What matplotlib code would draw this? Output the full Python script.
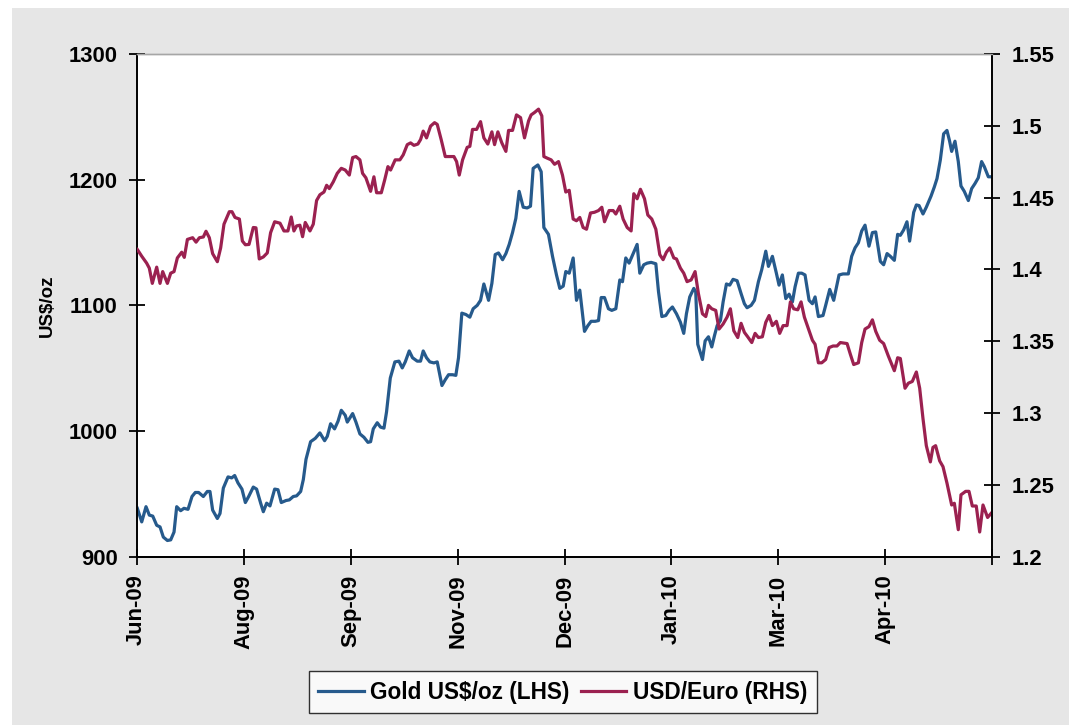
import matplotlib
matplotlib.use("Agg")
import matplotlib.pyplot as plt
from matplotlib.patches import Rectangle
from matplotlib.lines import Line2D

plt.rcParams['font.family'] = ['Liberation Sans', 'DejaVu Sans']
plt.rcParams['font.weight'] = 'bold'

# x positions are measured in units of one tick interval (0 = Jun-09 tick)
tick_labels = ["Jun-09", "Aug-09", "Sep-09", "Nov-09", "Dec-09", "Jan-10", "Mar-10", "Apr-10"]

gold_t = [0.006, 0.047, 0.087, 0.118, 0.150, 0.187, 0.218, 0.249, 0.287, 0.318, 0.349, 0.374, 0.411, 0.442,
          0.480, 0.517, 0.548, 0.579, 0.623, 0.660, 0.685, 0.710, 0.754, 0.779, 0.810, 0.854, 0.888, 0.916,
          0.947, 0.984, 1.016, 1.047, 1.090, 1.121, 1.159, 1.184, 1.215, 1.246, 1.290, 1.321, 1.352, 1.396,
          1.427, 1.464, 1.495, 1.533, 1.558, 1.583, 1.626, 1.670, 1.713, 1.757, 1.782, 1.813, 1.850, 1.882,
          1.913, 1.950,
          1.969, 2.019, 2.050, 2.087, 2.125, 2.162, 2.187, 2.212, 2.249, 2.280, 2.312, 2.336, 2.371, 2.414,
          2.452, 2.483, 2.511, 2.548, 2.579, 2.623, 2.654, 2.679, 2.710, 2.741, 2.779, 2.810, 2.854, 2.885,
          2.916, 2.953, 2.984, 3.009, 3.040, 3.078, 3.115, 3.146, 3.184, 3.215, 3.246, 3.290, 3.321, 3.352,
          3.383, 3.421, 3.452, 3.483, 3.514, 3.545, 3.576, 3.614, 3.651, 3.682, 3.707, 3.751, 3.782, 3.807,
          3.850, 3.888, 3.925, 3.956, 3.988,
          4.012, 4.044, 4.081, 4.112, 4.143, 4.187, 4.218, 4.249, 4.287, 4.318, 4.343, 4.374, 4.411, 4.442,
          4.480, 4.517, 4.542, 4.573, 4.604, 4.642, 4.679, 4.704, 4.741, 4.773, 4.810, 4.854, 4.879, 4.910,
          4.947, 4.978, 5.009, 5.047, 5.084, 5.115, 5.140, 5.171, 5.209, 5.227, 5.246, 5.290, 5.315, 5.346,
          5.377, 5.402, 5.427, 5.458, 5.483, 5.514, 5.545, 5.576, 5.614, 5.651, 5.682, 5.707, 5.745, 5.776,
          5.813, 5.844, 5.882, 5.907, 5.944,
          5.981, 6.006, 6.037, 6.069, 6.100, 6.131, 6.156, 6.187, 6.218, 6.249, 6.287, 6.318, 6.343, 6.374,
          6.417, 6.442, 6.480, 6.517, 6.567, 6.604, 6.654, 6.685, 6.717, 6.748, 6.779, 6.810, 6.847, 6.879,
          6.910, 6.953, 6.984, 7.016, 7.047, 7.084, 7.115, 7.140, 7.171, 7.202, 7.227, 7.265, 7.290, 7.315,
          7.352, 7.383, 7.427, 7.458, 7.483, 7.514, 7.545, 7.576, 7.601, 7.620, 7.651, 7.682, 7.707, 7.738,
          7.776, 7.807, 7.838, 7.869, 7.900, 7.925, 7.963, 7.994]

gold_usd_oz = [938.5, 927.7, 939.8, 933.1, 932.3, 925.0, 923.7, 915.6, 912.9, 913.4, 919.6, 939.8, 936.6, 938.5,
               937.7, 947.9, 951.1, 951.1, 947.9, 951.9, 951.9, 937.1, 930.4, 934.4, 954.6, 963.5, 962.7, 964.6,
               958.7, 953.8, 943.1, 947.9, 955.4, 953.8, 942.6, 935.8, 942.6, 940.4, 953.8, 953.3, 943.1, 944.7,
               945.2, 947.9, 948.4, 951.9, 961.4, 977.5, 991.5, 994.2, 998.5, 992.3, 995.8, 1005.8, 1001.7, 1007.7,
               1016.5, 1012.5,
               1007.1, 1013.9, 1007.1, 997.7, 995.0, 991.0, 991.5, 1001.7, 1006.6, 1003.1, 1002.3, 1015.2, 1042.1, 1055.0,
               1055.6, 1050.2, 1055.0, 1063.7, 1058.3, 1055.6, 1055.6, 1063.7, 1058.3, 1055.0, 1054.2, 1055.0, 1036.2, 1040.8,
               1044.8, 1044.8, 1044.3, 1058.3, 1093.8, 1092.7, 1090.6, 1097.3, 1100.0, 1104.0, 1117.0, 1104.0, 1117.5, 1140.4,
               1141.7, 1136.3, 1141.2, 1148.5, 1157.9, 1169.2, 1190.7, 1178.1, 1177.5, 1178.9, 1209.0, 1211.7, 1206.3, 1161.9,
               1156.5, 1139.0, 1124.2, 1113.5, 1115.3,
               1126.9, 1125.6, 1137.7, 1104.0, 1112.1, 1079.3, 1083.8, 1087.3, 1087.3, 1087.9, 1106.2, 1106.2, 1097.3, 1096.0,
               1097.3, 1120.2, 1118.8, 1137.7, 1133.6, 1141.2, 1148.5, 1125.6, 1132.3, 1133.6, 1134.2, 1133.1, 1110.8, 1091.1,
               1091.9, 1096.0, 1098.7, 1093.3, 1086.5, 1077.7, 1093.3, 1106.7, 1113.5, 1110.8, 1069.0, 1056.9, 1071.7, 1075.0,
               1066.9, 1075.8, 1083.8, 1087.9, 1102.7, 1117.0, 1116.1, 1120.7, 1119.6, 1109.4, 1101.3, 1098.1, 1100.0, 1104.0,
               1118.8, 1128.3, 1143.1, 1131.0, 1139.0,
               1125.6, 1116.1, 1124.2, 1105.4, 1108.9, 1102.7, 1114.8, 1125.6, 1125.6, 1124.2, 1104.0, 1101.3, 1106.7, 1091.1,
               1091.9, 1100.0, 1112.7, 1104.0, 1124.2, 1125.0, 1125.0, 1139.0, 1145.8, 1149.8, 1159.2, 1163.8, 1147.1, 1157.9,
               1158.4, 1135.0, 1132.3, 1141.2, 1139.0, 1135.8, 1156.5, 1155.7, 1160.0, 1166.5, 1151.1, 1174.0, 1179.9, 1179.4,
               1172.7, 1178.1, 1186.9, 1194.2, 1200.9, 1215.7, 1236.5, 1239.2, 1230.6, 1222.5, 1230.6, 1214.4, 1195.0, 1190.7,
               1183.4, 1192.9, 1196.9, 1201.5, 1214.4, 1210.4, 1202.3, 1202.3]

eur_t = [0.006, 0.047, 0.093, 0.118, 0.146, 0.187, 0.218, 0.243, 0.287, 0.318, 0.349, 0.380, 0.421, 0.445,
         0.474, 0.523, 0.555, 0.586, 0.623, 0.648, 0.679, 0.710, 0.754, 0.785, 0.816, 0.866, 0.891, 0.919,
         0.960, 0.988, 1.016, 1.050, 1.090, 1.115, 1.146, 1.184, 1.221, 1.252, 1.290, 1.340, 1.377, 1.414,
         1.445, 1.470, 1.495, 1.526, 1.551, 1.576, 1.620, 1.651, 1.682, 1.713, 1.751, 1.776, 1.801, 1.838,
         1.875, 1.913, 1.950,
         1.988, 2.019, 2.050, 2.087, 2.112, 2.143, 2.187, 2.218, 2.243, 2.287, 2.318, 2.349, 2.374, 2.417,
         2.461, 2.492, 2.530, 2.561, 2.592, 2.629, 2.654, 2.679, 2.710, 2.748, 2.785, 2.810, 2.847, 2.885,
         2.928, 2.966, 2.991, 3.016, 3.047, 3.090, 3.115, 3.140, 3.178, 3.215, 3.246, 3.283, 3.321, 3.346,
         3.377, 3.414, 3.452, 3.477, 3.514, 3.551, 3.589, 3.626, 3.664, 3.688, 3.720, 3.757, 3.788, 3.807,
         3.838, 3.875, 3.907, 3.944, 3.981,
         4.012, 4.044, 4.081, 4.112, 4.143, 4.174, 4.206, 4.243, 4.280, 4.318, 4.349, 4.374, 4.417, 4.455,
         4.480, 4.517, 4.548, 4.586, 4.623, 4.648, 4.679, 4.710, 4.748, 4.779, 4.816, 4.854, 4.891, 4.922,
         4.953, 4.984, 5.022, 5.047, 5.084, 5.115, 5.146, 5.184, 5.221, 5.252, 5.290, 5.321, 5.346, 5.377,
         5.414, 5.445, 5.483, 5.520, 5.551, 5.583, 5.620, 5.651, 5.682, 5.713, 5.751, 5.782, 5.813, 5.850,
         5.882, 5.913, 5.944,
         5.981, 6.012, 6.044, 6.081, 6.112, 6.143, 6.181, 6.212, 6.243, 6.287, 6.318, 6.343, 6.374, 6.405,
         6.442, 6.474, 6.511, 6.548, 6.579, 6.642, 6.673, 6.704, 6.748, 6.779, 6.810, 6.847, 6.879, 6.910,
         6.947, 6.984, 7.028, 7.084, 7.115, 7.140, 7.184, 7.215, 7.252, 7.290, 7.321, 7.352, 7.383, 7.421,
         7.445, 7.470, 7.508, 7.539, 7.576, 7.620, 7.645, 7.682, 7.707, 7.751, 7.782, 7.813, 7.850, 7.882,
         7.913, 7.956, 7.994]

usd_euro = [1.4139, 1.4092, 1.4044, 1.4009, 1.3903, 1.4016, 1.3903, 1.3985, 1.3903, 1.3974, 1.3985, 1.4080, 1.4120, 1.4084,
            1.4209, 1.4221, 1.4190, 1.4221, 1.4226, 1.4266, 1.4221, 1.4110, 1.4054, 1.4150, 1.4315, 1.4402, 1.4402, 1.4362,
            1.4351, 1.4198, 1.4172, 1.4174, 1.4292, 1.4290, 1.4073, 1.4087, 1.4115, 1.4256, 1.4332, 1.4322, 1.4268, 1.4268,
            1.4365, 1.4268, 1.4303, 1.4308, 1.4228, 1.4327, 1.4268, 1.4315, 1.4480, 1.4520, 1.4539, 1.4586, 1.4563, 1.4610,
            1.4669, 1.4704, 1.4692,
            1.4657, 1.4779, 1.4786, 1.4763, 1.4669, 1.4638, 1.4544, 1.4645, 1.4534, 1.4534, 1.4621, 1.4716, 1.4692, 1.4763,
            1.4763, 1.4798, 1.4869, 1.4881, 1.4864, 1.4873, 1.4904, 1.4963, 1.4916, 1.4998, 1.5022, 1.5010, 1.4904, 1.4786,
            1.4786, 1.4786, 1.4751, 1.4657, 1.4763, 1.4850, 1.4857, 1.4975, 1.4975, 1.5029, 1.4916, 1.4873, 1.4958, 1.4869,
            1.4958, 1.4881, 1.4822, 1.4968, 1.4968, 1.5076, 1.5057, 1.4916, 1.5034, 1.5076, 1.5093, 1.5116, 1.5069, 1.4786,
            1.4775, 1.4763, 1.4732, 1.4751, 1.4657,
            1.4539, 1.4551, 1.4351, 1.4339, 1.4362, 1.4292, 1.4280, 1.4393, 1.4398, 1.4410, 1.4433, 1.4332, 1.4410, 1.4410,
            1.4386, 1.4440, 1.4351, 1.4292, 1.4268, 1.4527, 1.4492, 1.4558, 1.4492, 1.4379, 1.4351, 1.4280, 1.4103, 1.4068,
            1.4120, 1.4150, 1.4080, 1.4073, 1.4009, 1.3974, 1.3915, 1.3927, 1.3985, 1.3832, 1.3691, 1.3672, 1.3750, 1.3726,
            1.3715, 1.3585, 1.3620, 1.3668, 1.3726, 1.3573, 1.3526, 1.3625, 1.3562, 1.3531, 1.3491, 1.3555, 1.3526, 1.3531,
            1.3632, 1.3679, 1.3609,
            1.3639, 1.3555, 1.3609, 1.3609, 1.3774, 1.3726, 1.3719, 1.3774, 1.3668, 1.3573, 1.3507, 1.3479, 1.3350, 1.3350,
            1.3373, 1.3456, 1.3467, 1.3467, 1.3491, 1.3484, 1.3409, 1.3338, 1.3350, 1.3491, 1.3585, 1.3602, 1.3649, 1.3569,
            1.3507, 1.3484, 1.3397, 1.3295, 1.3385, 1.3380, 1.3173, 1.3208, 1.3220, 1.3286, 1.3173, 1.2961, 1.2773, 1.2660,
            1.2761, 1.2773, 1.2667, 1.2627, 1.2513, 1.2360, 1.2372, 1.2188, 1.2431, 1.2455, 1.2455, 1.2353, 1.2353, 1.2172,
            1.2360, 1.2273, 1.2306]

gold_label = "Gold US$/oz (LHS)"
eur_label = "USD/Euro (RHS)"
left_ticks = [900, 1000, 1100, 1200, 1300]
right_ticks = [1.2, 1.25, 1.3, 1.35, 1.4, 1.45, 1.5, 1.55]
right_tick_labels = ["1.2", "1.25", "1.3", "1.35", "1.4", "1.45", "1.5", "1.55"]

BLUE = '#265A8C'
RED = '#9B2150'
BG = '#E6E6E6'

W, H = 1069, 725
fig = plt.figure(figsize=(W / 100, H / 100), dpi=100)
fig.patch.set_facecolor('white')
fig.patches.append(Rectangle((12 / W, 0), 1 - 12 / W, 1 - 8 / H, transform=fig.transFigure,
                             facecolor=BG, edgecolor='none', zorder=-10))

left, right = 136.7 / W, 992.3 / W
bottom, top = 1 - 556.7 / H, 1 - 54 / H
ax = fig.add_axes([left, bottom, right - left, top - bottom])
ax.set_facecolor('white')
ax2 = ax.twinx()

ax.plot(gold_t, gold_usd_oz, color=BLUE, lw=2.3, solid_joinstyle='round')
ax2.plot(eur_t, usd_euro, color=RED, lw=2.3, solid_joinstyle='round')

ax.set_xlim(0, len(tick_labels))
ax.set_ylim(900, 1300)
ax2.set_ylim(1.2, 1.55)

ax.set_xticks(list(range(len(tick_labels) + 1)))
ax.set_xticklabels(tick_labels + [""], rotation=90, fontsize=15.8, fontweight='bold')
ax.set_yticks(left_ticks)
ax.set_yticklabels([str(v) for v in left_ticks], fontsize=15.8, fontweight='bold')
ax2.set_yticks(right_ticks)
ax2.set_yticklabels(right_tick_labels, fontsize=15.8, fontweight='bold')

ax.tick_params(axis='x', direction='inout', length=11.5, width=1.3, pad=7)
ax.tick_params(axis='y', direction='inout', length=11.5, width=1.3, pad=8)
ax2.tick_params(axis='y', direction='inout', length=11.5, width=1.3, pad=8.5)

for a in (ax, ax2):
    a.spines['top'].set_color('#A6A6A6')
    a.spines['top'].set_linewidth(1.0)
    a.spines['bottom'].set_color('black')
    a.spines['bottom'].set_linewidth(1.4)
ax.spines['left'].set_linewidth(1.4)
ax.spines['right'].set_visible(False)
ax2.spines['left'].set_visible(False)
ax2.spines['right'].set_linewidth(1.4)

ax.set_ylabel("US$/oz", fontsize=13.5, fontweight='bold')
ax.yaxis.set_label_coords(-0.095, 0.5)

handles = [Line2D([], [], color=BLUE, lw=2.3), Line2D([], [], color=RED, lw=2.3)]
leg = fig.legend(handles, [gold_label, eur_label], loc='center', bbox_to_anchor=(563 / W, 1 - 692 / H),
                 ncol=2, frameon=True, fancybox=False, prop={'size': 16.3, 'weight': 'bold'},
                 handlelength=2.0, handletextpad=0.3, columnspacing=0.5, borderpad=0.4,
                 borderaxespad=0)
leg.get_frame().set_edgecolor('black')
leg.get_frame().set_linewidth(1.0)
leg.get_frame().set_facecolor('white')

fig.savefig('out.png', dpi=100, facecolor=fig.get_facecolor())
